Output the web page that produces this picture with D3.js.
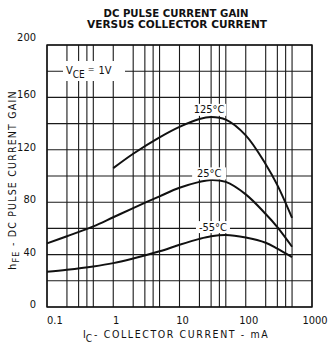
<!DOCTYPE html>
<html>
<head>
<meta charset="utf-8">
<script src="https://cdn.jsdelivr.net/npm/d3@7"></script>
<style>
  body { margin: 0; background: #fff; }
  svg text { font-family: "Liberation Sans Narrow", "DejaVu Sans Condensed", "Liberation Sans", sans-serif; fill: #111; }
</style>
</head>
<body>
<div id="container"></div>
<script>
// collector current (mA) and gain readings per temperature
const icMA = [0.1, 0.2, 0.5, 1, 2, 5, 10, 20, 30, 50, 100, 200, 300, 500];
const gain25 = [48.6, 54, 61.5, 68.5, 75.5, 84.5, 91, 95.5, 97, 95.5, 86, 71, 61, 46];
const gainM55 = [27, 28.5, 31, 33.5, 37, 42.5, 47.5, 52, 54, 55, 53, 49, 44.5, 38];
const icHot = [1, 2, 5, 10, 20, 30, 50, 100, 200, 300, 500];
const gain125 = [106, 117, 129.5, 137.5, 143.5, 145, 143, 131, 109, 93, 68];

const curveLabels = ['125°C', '25°C', '-55°C'];
const yTicks = [0, 40, 80, 120, 160, 200];
const xTicks = [0.1, 1, 10, 100, 1000];
const xTickLabels = ['0.1', '1', '10', '100', '1000'];

// chart size
const w = 328;
const h = 349;

const xScale = d3.scaleLog()
                .domain([0.1, 1000])
                .range([47, 312]);

const yScale = d3.scaleLinear()
                .domain([0, 200])
                .range([307, 45]);

const svg = d3.select('#container')
                .append('svg')
                .attr('width', w)
                .attr('height', h);

// grid: every 20 units, and 1..5 in each decade
const hGrid = d3.range(0, 201, 20);
const vGrid = [];
[0.1, 1, 10, 100].forEach((d) => [1, 2, 3, 4, 5].forEach((m) => vGrid.push(d * m)));
vGrid.push(1000);

const grid = svg.append('g').attr('stroke', '#1a1a1a').attr('stroke-width', 1.1);
grid.selectAll('line.h')
    .data(hGrid)
    .enter().append('line')
    .attr('x1', xScale(0.1)).attr('x2', xScale(1000))
    .attr('y1', (d) => yScale(d)).attr('y2', (d) => yScale(d));
grid.selectAll('line.v')
    .data(vGrid)
    .enter().append('line')
    .attr('x1', (d) => xScale(d)).attr('x2', (d) => xScale(d))
    .attr('y1', yScale(0)).attr('y2', yScale(200));

// frame a bit heavier
svg.append('rect')
    .attr('x', xScale(0.1)).attr('y', yScale(200))
    .attr('width', xScale(1000) - xScale(0.1))
    .attr('height', yScale(0) - yScale(200))
    .attr('fill', 'none').attr('stroke', '#111').attr('stroke-width', 1.4);

// curves
const line = d3.line()
    .x((d) => xScale(d[0]))
    .y((d) => yScale(d[1]))
    .curve(d3.curveCatmullRom.alpha(0.5));

const series = [
    d3.zip(icHot, gain125),
    d3.zip(icMA, gain25),
    d3.zip(icMA, gainM55)
];

svg.append('g').selectAll('path')
    .data(series)
    .enter().append('path')
    .attr('d', line)
    .attr('fill', 'none')
    .attr('stroke', '#111')
    .attr('stroke-width', 2);

// curve labels on white patches
const labelPos = [[28, 150.5], [28, 102], [32, 61]];
curveLabels.forEach((t, i) => {
    const cx = xScale(labelPos[i][0]);
    const cy = yScale(labelPos[i][1]);
    svg.append('rect')
        .attr('x', cx - 17).attr('y', cy - 6)
        .attr('width', 34).attr('height', 12)
        .attr('fill', '#fff');
    svg.append('text')
        .attr('x', cx).attr('y', cy)
        .attr('text-anchor', 'middle')
        .attr('dominant-baseline', 'central')
        .attr('font-size', 11)
        .text(t);
});

// V_CE = 1V note
svg.append('rect')
    .attr('x', 63).attr('y', 61).attr('width', 62).attr('height', 20)
    .attr('fill', '#fff');
const vce = svg.append('text')
    .attr('x', 66).attr('y', 74)
    .attr('font-size', 11);
vce.append('tspan').text('V');
vce.append('tspan').attr('dy', 4).attr('font-size', 10).text('CE');
vce.append('tspan').attr('dy', -6).attr('dx', 3).attr('font-size', 9).text('=');
vce.append('tspan').attr('dy', 2).attr('dx', 4).text('1V');

// tick labels
svg.append('g').selectAll('text')
    .data(yTicks)
    .enter().append('text')
    .attr('x', 36)
    .attr('y', (d) => yScale(d) - (d === 200 ? 7.5 : 2.5))
    .attr('text-anchor', 'end')
    .attr('dominant-baseline', 'central')
    .attr('font-size', 11)
    .text((d) => d);

svg.append('g').selectAll('text')
    .data(xTicks)
    .enter().append('text')
    .attr('x', (d, i) => xScale(d) + (i === 0 ? 0 : 3))
    .attr('y', 320)
    .attr('text-anchor', (d, i) => (i === 0 ? 'start' : 'middle'))
    .attr('dominant-baseline', 'central')
    .attr('font-size', 11)
    .text((d, i) => xTickLabels[i]);

// titles
svg.append('text')
    .attr('x', 176).attr('y', 17)
    .attr('text-anchor', 'middle')
    .attr('font-size', 10).attr('font-weight', 'bold')
    .attr('textLength', 145).attr('lengthAdjust', 'spacingAndGlyphs')
    .text('DC PULSE CURRENT GAIN');
svg.append('text')
    .attr('x', 177).attr('y', 27.5)
    .attr('text-anchor', 'middle')
    .attr('font-size', 10).attr('font-weight', 'bold')
    .attr('textLength', 180).attr('lengthAdjust', 'spacingAndGlyphs')
    .text('VERSUS COLLECTOR CURRENT');

const xt = svg.append('text')
    .attr('x', 83).attr('y', 338)
    .attr('font-size', 10.5);
xt.append('tspan').text('I');
xt.append('tspan').attr('dy', 4).attr('font-size', 10).text('C');
xt.append('tspan').attr('dy', -4).attr('dx', 2).attr('letter-spacing', 1.6).text('- COLLECTOR CURRENT - mA');

const yt = svg.append('text')
    .attr('transform', 'translate(16, 180) rotate(-90)')
    .attr('text-anchor', 'middle')
    .attr('font-size', 10.5)
    .attr('letter-spacing', 1.2);
yt.append('tspan').text('h');
yt.append('tspan').attr('dy', 3).attr('font-size', 9).text('FE');
yt.append('tspan').attr('dy', -3).text(' - DC PULSE CURRENT GAIN');
</script>
</body>
</html>
